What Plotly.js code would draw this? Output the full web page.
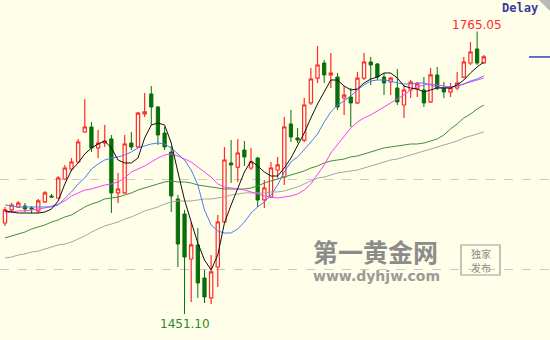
<!DOCTYPE html>
<html>
<head>
<meta charset="utf-8">
<script src="https://cdn.plot.ly/plotly-3.0.1.min.js"></script>
<style>html,body{margin:0;padding:0;background:#fffee8;}#chart{width:550px;height:340px;}</style>
</head>
<body>
<div id="chart"></div>
<script>
const openP = [1552.2,1566.7,1570.0,1571.1,1568.9,1565.6,1575.6,1582.2,1580.0,1601.1,1612.2,1620.0,1653.3,1658.9,1635.6,1641.1,1645.6,1585.6,1585.6,1641.1,1636.7,1673.3,1695.6,1681.1,1652.2,1631.1,1578.9,1562.2,1512.2,1527.8,1491.1,1468.9,1503.3,1553.3,1618.9,1614.4,1633.3,1613.3,1624.4,1577.8,1581.1,1611.1,1603.3,1662.2,1646.7,1644.4,1685.6,1713.3,1730.0,1716.7,1714.4,1691.1,1692.2,1685.6,1713.3,1731.1,1728.9,1714.4,1708.9,1702.2,1683.3,1700.0,1701.1,1700.0,1686.7,1716.7,1702.2,1697.8,1702.2,1714.4,1730.0,1745.6,1730.0];
const highP = [1570.0,1574.4,1576.7,1574.4,1571.1,1578.9,1587.8,1584.4,1604.4,1616.7,1624.4,1645.6,1690.0,1664.4,1655.6,1661.1,1650.0,1607.8,1650.0,1653.3,1675.6,1696.7,1704.4,1682.2,1658.9,1637.8,1583.3,1566.7,1553.3,1546.7,1500.0,1516.7,1561.1,1636.7,1644.4,1645.6,1643.3,1635.6,1625.6,1600.0,1620.0,1625.6,1670.0,1677.8,1657.8,1691.1,1724.4,1748.9,1733.3,1741.1,1718.9,1704.4,1702.2,1720.0,1741.1,1736.7,1730.0,1718.9,1714.4,1723.3,1705.6,1711.1,1708.9,1714.4,1724.4,1725.6,1708.9,1707.8,1720.0,1736.7,1753.3,1765.05,1738.9];
const lowP = [1548.9,1563.3,1568.9,1564.4,1563.3,1563.3,1574.4,1580.0,1578.9,1600.0,1610.0,1618.9,1652.2,1631.1,1624.4,1636.7,1563.3,1574.4,1584.4,1633.3,1635.6,1670.0,1661.1,1638.9,1633.3,1564.4,1503.3,1451.10,1464.4,1468.9,1463.3,1462.2,1481.1,1552.2,1596.7,1597.8,1615.6,1611.1,1570.0,1568.9,1580.0,1602.2,1594.4,1642.2,1641.1,1642.2,1683.3,1707.8,1707.8,1702.2,1677.8,1672.2,1658.9,1684.4,1711.1,1705.6,1711.1,1694.4,1694.4,1683.3,1668.9,1691.1,1692.2,1681.1,1685.6,1700.0,1691.1,1692.2,1700.0,1713.3,1727.8,1727.8,1729.0];
const closeP = [1566.7,1572.2,1574.4,1567.8,1567.8,1576.7,1585.6,1581.1,1602.2,1613.3,1620.0,1642.2,1658.9,1635.6,1641.1,1643.3,1585.6,1590.0,1640.0,1636.7,1674.4,1675.6,1681.1,1650.0,1636.7,1582.2,1528.9,1514.4,1527.8,1485.6,1470.0,1497.8,1553.3,1622.2,1616.7,1630.0,1625.6,1620.0,1577.8,1591.1,1613.3,1616.7,1658.9,1647.8,1644.4,1683.3,1712.2,1727.8,1716.7,1718.9,1681.1,1694.4,1685.6,1713.3,1731.1,1727.8,1714.4,1707.8,1713.3,1686.7,1700.0,1708.9,1706.7,1685.6,1716.7,1702.2,1697.8,1702.2,1707.8,1731.1,1742.2,1730.0,1736.7];

const ma5 = [1565.6,1564.4,1563.3,1563.3,1563.3,1563.3,1564.4,1567.8,1576.7,1595.6,1611.1,1618.9,1628.9,1635.6,1640.0,1643.3,1635.6,1622.2,1618.9,1618.9,1624.4,1646.7,1661.1,1663.3,1661.1,1641.1,1608.9,1577.8,1553.3,1530.0,1511.1,1500.0,1516.7,1552.2,1572.2,1591.1,1608.9,1621.1,1615.6,1608.9,1604.4,1604.4,1613.3,1624.4,1638.9,1652.2,1668.9,1684.4,1697.8,1711.1,1711.1,1704.4,1700.0,1701.1,1707.8,1712.2,1714.4,1718.9,1718.9,1713.3,1704.4,1702.2,1701.1,1697.8,1700.0,1702.2,1702.2,1702.2,1705.6,1711.1,1718.9,1725.6,1731.1];
const ma10 = [1572.2,1571.1,1570.0,1570.0,1570.0,1570.0,1570.0,1570.0,1572.2,1578.9,1586.7,1595.6,1602.2,1612.2,1617.8,1622.2,1624.4,1625.6,1627.8,1631.1,1635.6,1637.8,1640.0,1641.1,1640.0,1635.6,1628.9,1622.2,1611.1,1594.4,1566.7,1550.0,1543.3,1541.1,1541.1,1545.6,1553.3,1563.3,1570.0,1575.6,1583.3,1594.4,1608.9,1620.0,1625.6,1633.3,1642.2,1651.1,1664.4,1675.6,1683.3,1687.8,1693.3,1700.0,1705.6,1710.0,1711.1,1711.1,1710.0,1707.8,1706.7,1706.7,1707.8,1707.8,1705.6,1703.3,1702.2,1703.3,1704.4,1706.7,1710.0,1712.2,1715.6];
const ma20 = [1563.3,1564.4,1565.6,1565.6,1566.7,1567.8,1568.9,1571.1,1573.3,1576.7,1582.2,1585.6,1588.9,1590.0,1592.2,1594.4,1595.6,1597.8,1602.2,1608.9,1612.2,1615.6,1620.0,1624.4,1627.8,1628.9,1626.7,1623.3,1620.0,1614.4,1608.9,1603.3,1595.6,1592.2,1591.1,1590.0,1588.9,1586.7,1584.4,1582.2,1581.1,1580.0,1581.1,1582.2,1584.4,1588.9,1595.6,1606.7,1616.7,1630.0,1638.9,1647.8,1657.8,1664.4,1668.9,1672.2,1676.7,1681.1,1685.6,1690.0,1694.4,1700.0,1703.3,1705.6,1706.7,1705.6,1704.4,1703.3,1704.4,1706.7,1708.9,1711.1,1713.3];
const ma40 = [1535.6,1537.8,1540.0,1542.2,1545.6,1547.8,1550.0,1553.3,1555.6,1558.9,1561.1,1565.6,1570.0,1573.3,1575.6,1578.9,1580.0,1581.1,1583.3,1585.6,1588.9,1591.1,1593.3,1595.6,1597.8,1598.9,1597.8,1597.8,1596.7,1594.4,1593.3,1592.2,1591.1,1590.0,1590.0,1590.0,1590.0,1591.1,1593.3,1596.7,1598.9,1601.1,1603.3,1605.6,1607.8,1610.0,1613.3,1615.6,1618.9,1621.1,1622.2,1623.3,1625.6,1626.7,1628.9,1631.1,1633.3,1635.6,1636.7,1637.8,1638.9,1640.0,1640.0,1641.1,1643.3,1645.6,1650.0,1656.7,1662.2,1668.9,1673.3,1678.9,1683.3];
const ma60 = [1513.3,1514.4,1516.7,1517.8,1520.0,1521.1,1523.3,1525.6,1527.8,1528.9,1531.1,1534.4,1537.8,1542.2,1545.6,1548.9,1551.1,1553.3,1556.7,1558.9,1562.2,1565.6,1567.8,1570.0,1573.3,1575.6,1576.7,1576.7,1576.7,1577.8,1578.9,1578.9,1580.0,1581.1,1583.3,1584.4,1585.6,1585.6,1585.6,1585.6,1586.7,1586.7,1587.8,1590.0,1592.2,1595.6,1598.9,1602.2,1603.3,1605.6,1607.8,1608.9,1610.0,1611.1,1613.3,1615.6,1617.8,1620.0,1622.2,1623.3,1625.6,1627.8,1630.0,1632.2,1634.4,1636.7,1638.9,1641.1,1643.3,1646.7,1648.9,1651.1,1653.3];

const gridLevels = [1500, 1600];
const highLabel = "1765.05";
const lowLabel = "1451.10";

const bars = openP.map((_, i) => i);
const hiIdx = highP.indexOf(Math.max(...highP));
const loIdx = lowP.indexOf(Math.min(...lowP));
const lastClose = closeP[closeP.length - 1];
const bg = '#fffee8';

const maLine = (y, color) => ({type:'scatter', mode:'lines', x:bars, y:y, line:{color:color, width:1}, hoverinfo:'skip'});

const traces = [
  maLine(ma60, '#a6a6a6'),
  maLine(ma40, '#3f8f3f'),
  maLine(ma20, '#ff3cff'),
  maLine(ma10, '#4f7cf0'),
  maLine(ma5, '#111111'),
  {
    type:'candlestick', x:bars, open:openP, high:highP, low:lowP, close:closeP,
    increasing:{line:{color:'#ff2c2c', width:1.2}, fillcolor:bg},
    decreasing:{line:{color:'#0a6e0a', width:1}, fillcolor:'#0a6e0a'},
    whiskerwidth:0, hoverinfo:'skip'
  }
];

const P = (px) => px / 550;
const Q = (py) => 1 - py / 340;
const txt = (px, py, text, font) => ({x:P(px), y:Q(py), xref:'paper', yref:'paper', xanchor:'center', yanchor:'middle', text:text, showarrow:false, borderpad:0, font:font});

const layout = {
  width:550, height:340,
  margin:{l:0, r:0, t:0, b:0},
  paper_bgcolor:bg, plot_bgcolor:bg,
  showlegend:false, hovermode:false,
  xaxis:{range:[-0.752, 81.96], showgrid:false, zeroline:false, showticklabels:false, showline:false, ticks:'', rangeslider:{visible:false}, fixedrange:true},
  yaxis:{range:[1422.2, 1800], tickvals:gridLevels, showgrid:true, gridcolor:'#c9c9c9', griddash:'dash', gridwidth:1, zeroline:false, showticklabels:false, showline:false, ticks:'', fixedrange:true},
  shapes:[
    {type:'line', xref:'paper', yref:'y', x0:P(529), x1:1, y0:lastClose, y1:lastClose, line:{color:'#3344bb', width:1.5}},
    {type:'path', xref:'paper', yref:'paper', path:`M ${P(539)} 1 L 1 1 L 1 ${Q(11)} Z`, fillcolor:'#b8b8b8', line:{width:0}},
    {type:'rect', xref:'paper', yref:'paper', x0:P(461), x1:P(500), y0:Q(275), y1:Q(245), line:{color:'#9a9a9a', width:1.2}, fillcolor:'rgba(0,0,0,0)'}
  ],
  annotations:[
    {x:hiIdx, y:highP[hiIdx], xref:'x', yref:'y', xanchor:'center', text:highLabel, showarrow:false, yanchor:'bottom', yshift:-3, font:{family:'DejaVu Sans', size:12, color:'#ff2a2a'}},
    {x:loIdx, y:lowP[loIdx], xref:'x', yref:'y', xanchor:'center', text:lowLabel, showarrow:false, yanchor:'top', yshift:-1, font:{family:'DejaVu Sans', size:12, color:'#2b8a2b'}},
    txt(520, 8, '<b>Delay</b>', {family:'DejaVu Sans Mono', size:12, color:'#3b3ba3'}),
    txt(375, 251, '<b>第一黄金网</b>', {family:'Noto Sans CJK SC', size:25, color:'#8c8c8c'}),
    txt(376, 276, '<b>www.dyhjw.com</b>', {family:'DejaVu Sans', size:14, color:'#9a9a9a'}),
    txt(480.5, 253.5, '独家', {family:'Noto Sans CJK SC', size:10, color:'#8c8c8c'}),
    txt(480.5, 267, '发布', {family:'Noto Sans CJK SC', size:10, color:'#8c8c8c'})
  ]
};

Plotly.newPlot('chart', traces, layout, {staticPlot:true, displayModeBar:false});
</script>
</body>
</html>
